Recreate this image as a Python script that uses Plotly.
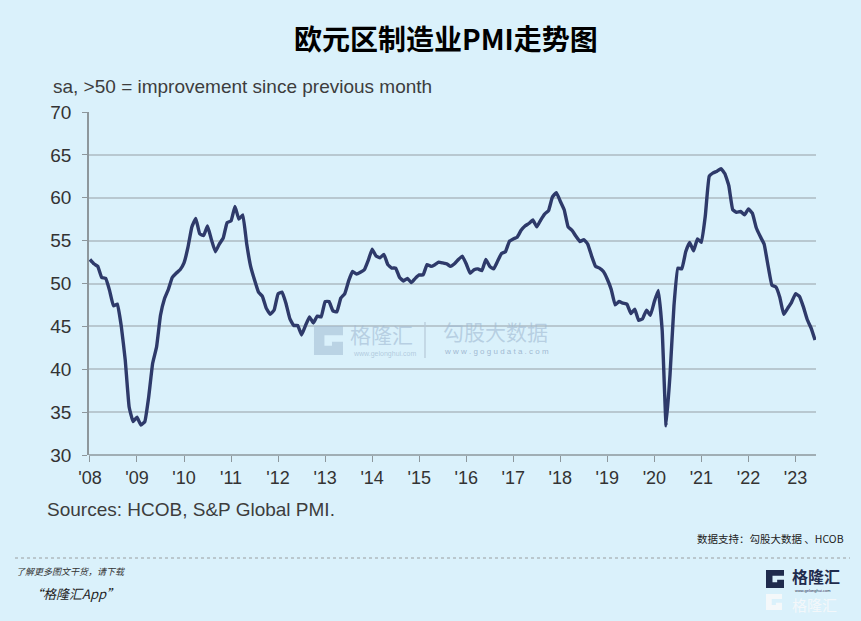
import plotly.graph_objects as go

# ---------------- data ----------------
years = list(range(2008, 2024))
pmi_2008 = [52.8, 52.3, 52.0, 50.7, 50.6, 49.2, 47.4, 47.6, 45.0, 41.1, 35.6, 33.9]
pmi_2009 = [34.4, 33.5, 33.9, 36.8, 40.7, 42.6, 46.3, 48.2, 49.3, 50.7, 51.2, 51.6]
pmi_2010 = [52.4, 54.2, 56.6, 57.6, 55.8, 55.6, 56.7, 55.1, 53.7, 54.6, 55.3, 57.1]
pmi_2011 = [57.3, 59.0, 57.5, 58.0, 54.6, 52.0, 50.4, 49.0, 48.5, 47.1, 46.4, 46.9]
pmi_2012 = [48.8, 49.0, 47.7, 45.9, 45.1, 45.1, 44.0, 45.1, 46.1, 45.4, 46.2, 46.1]
pmi_2013 = [47.9, 47.9, 46.8, 46.7, 48.3, 48.8, 50.3, 51.4, 51.1, 51.3, 51.6, 52.7]
pmi_2014 = [54.0, 53.2, 53.0, 53.4, 52.2, 51.8, 51.8, 50.7, 50.3, 50.6, 50.1, 50.6]
pmi_2015 = [51.0, 51.0, 52.2, 52.0, 52.2, 52.5, 52.4, 52.3, 52.0, 52.3, 52.8, 53.2]
pmi_2016 = [52.3, 51.2, 51.6, 51.7, 51.5, 52.8, 52.0, 51.7, 52.6, 53.5, 53.7, 54.9]
pmi_2017 = [55.2, 55.4, 56.2, 56.7, 57.0, 57.4, 56.6, 57.4, 58.1, 58.5, 60.1, 60.6]
pmi_2018 = [59.6, 58.6, 56.6, 56.2, 55.5, 54.9, 55.1, 54.6, 53.2, 52.0, 51.8, 51.4]
pmi_2019 = [50.5, 49.3, 47.5, 47.9, 47.7, 47.6, 46.5, 47.0, 45.7, 45.9, 46.9, 46.3]
pmi_2020 = [47.9, 49.2, 44.5, 33.4, 39.4, 47.4, 51.8, 51.7, 53.7, 54.8, 53.8, 55.2]
pmi_2021 = [54.8, 57.9, 62.5, 62.9, 63.1, 63.4, 62.8, 61.4, 58.6, 58.3, 58.4, 58.0]
pmi_2022 = [58.7, 58.2, 56.5, 55.5, 54.6, 52.1, 49.8, 49.6, 48.4, 46.4, 47.1, 47.8]
pmi_2023 = [48.8, 48.5, 47.3, 45.8, 44.8, 43.4]

yearly = [pmi_2008, pmi_2009, pmi_2010, pmi_2011, pmi_2012, pmi_2013, pmi_2014,
          pmi_2015, pmi_2016, pmi_2017, pmi_2018, pmi_2019, pmi_2020, pmi_2021,
          pmi_2022, pmi_2023]

x_vals, y_vals = [], []
for yr, vals in zip(years, yearly):
    for m, v in enumerate(vals):
        x_vals.append(yr + m / 12.0)
        y_vals.append(v)

tick_vals = years
tick_text = ["'" + str(y)[2:] for y in years]
y_ticks = [30, 35, 40, 45, 50, 55, 60, 65, 70]

title_text = "欧元区制造业PMI走势图"
subtitle_text = "sa, >50 = improvement since previous month"
source_text = "Sources: HCOB, S&P Global PMI."
support_text = "数据支持：勾股大数据 、HCOB"
promo1 = "了解更多图文干货，请下载"
promo2 = "“格隆汇App”"

# ---------------- layout geometry ----------------
W, H = 861, 621
L, R, T, B = 89, 816, 112, 455
BG = "#daf1fb"
LATIN = "Liberation Sans, Arial, sans-serif"
CJK = "Noto Sans CJK SC, sans-serif"


def px(x):
    return (x - L) / (R - L)


def py(y):
    return (B - y) / (B - T)


fig = go.Figure()
fig.add_trace(go.Scatter(
    x=x_vals, y=y_vals, mode="lines",
    line=dict(color="#2e3a6a", width=3.4, shape="spline", smoothing=0.3),
    hoverinfo="x+y", showlegend=False,
))

fig.update_layout(
    width=W, height=H,
    margin=dict(l=L, r=W - R, t=T, b=H - B),
    paper_bgcolor=BG, plot_bgcolor=BG,
    showlegend=False,
    xaxis=dict(
        range=[2008 - 0.02, 2023 + 5 / 12 + 0.02],
        tickmode="array", tickvals=tick_vals, ticktext=tick_text,
        showgrid=False, zeroline=False,
        showline=False,
        ticks="outside", ticklen=6, tickwidth=1.3, tickcolor="#8d979c",
        tickfont=dict(family=LATIN, size=18, color="#333333"),
        fixedrange=True,
    ),
    yaxis=dict(
        range=[30, 70],
        tickmode="array", tickvals=y_ticks,
        showgrid=True, gridcolor="#b8c8d0", gridwidth=1.5,
        zeroline=False,
        showline=True, linecolor="#8d979c", linewidth=1.5,
        ticks="outside", ticklen=5, tickwidth=1.3, tickcolor="#8d979c",
        ticklabelstandoff=7,
        tickfont=dict(family=LATIN, size=19, color="#333333"),
        fixedrange=True,
    ),
)

shapes = []
# x-axis baseline (the 30 line), darker
shapes.append(dict(type="line", xref="paper", yref="paper", x0=0, x1=1, y0=0, y1=0,
                   line=dict(color="#8d979c", width=1.6), layer="above"))
# dashed separator
shapes.append(dict(type="line", xref="paper", yref="paper",
                   x0=px(15), x1=px(850), y0=py(558), y1=py(558),
                   line=dict(color="#8a8a8a", width=0.8, dash="dot")))
# watermark separator
shapes.append(dict(type="line", xref="paper", yref="paper",
                   x0=px(425), x1=px(425), y0=py(322), y1=py(358),
                   line=dict(color="#b6c9d8", width=1.2)))


def g_logo(x0, y0, s, color):
    pts = [(0, 0), (1, 0), (1, 0.32), (0.36, 0.32), (0.36, 0.68), (0.62, 0.68),
           (0.62, 0.54), (1, 0.54), (1, 1), (0, 1)]
    d = "M " + " L ".join(f"{px(x0 + a * s):.5f},{py(y0 + b * s):.5f}" for a, b in pts) + " Z"
    return dict(type="path", xref="paper", yref="paper", path=d,
                fillcolor=color, line=dict(width=0), layer="above")


shapes.append(g_logo(314, 326, 29, "rgba(160,185,210,0.55)"))
shapes.append(g_logo(766, 570, 18, "#1f2b4d"))
shapes.append(g_logo(766, 594, 16, "rgba(245,248,250,0.95)"))
fig.update_layout(shapes=shapes)

ann = []


def add_text(text, x, y, size, color, family, xanchor="left", yanchor="middle", bold=False, italic=False):
    t = text
    if bold:
        t = "<b>" + t + "</b>"
    if italic:
        t = "<i>" + t + "</i>"
    ann.append(dict(text=t, x=px(x), y=py(y), xref="paper", yref="paper",
                    xanchor=xanchor, yanchor=yanchor, showarrow=False,
                    font=dict(size=size, color=color, family=family)))


add_text(title_text, 446, 38, 28, "#000000", CJK, xanchor="center", bold=True)
add_text(subtitle_text, 51, 86, 19, "#3d3d3d", LATIN)
add_text(source_text, 45, 509, 19, "#3d3d3d", LATIN)
add_text(support_text, 846, 538, 10.5, "#222222", CJK, xanchor="right")
add_text(promo1, 14, 571, 9, "#333333", CJK, italic=True)
add_text(promo2, 28, 593, 13, "#222222", CJK, italic=True)

# watermark
add_text("格隆汇", 348, 334, 21, "rgba(160,185,210,0.6)", CJK)
add_text("www.gelonghui.com", 351, 354, 7, "rgba(160,185,210,0.7)", LATIN)
add_text("勾股大数据", 441, 331, 21, "rgba(160,185,210,0.6)", CJK)
add_text("w w w . g o g u d a t a . c o m", 442, 351, 8, "rgba(140,165,195,0.75)", LATIN)

# bottom-right logo
add_text("<b>格隆汇</b>", 790, 576, 16, "#1f2b4d", CJK)
add_text("www.gelonghui.com", 793, 590, 4, "#1f2b4d", LATIN)
add_text("格隆汇", 790, 604, 15, "rgba(245,248,250,0.95)", CJK)

fig.update_layout(annotations=ann)

fig.write_html(
    "out.html",
    config={"displayModeBar": False},
    post_script="document.body.style.margin='0';document.body.style.overflow='hidden';document.body.style.background='" + BG + "';",
)
